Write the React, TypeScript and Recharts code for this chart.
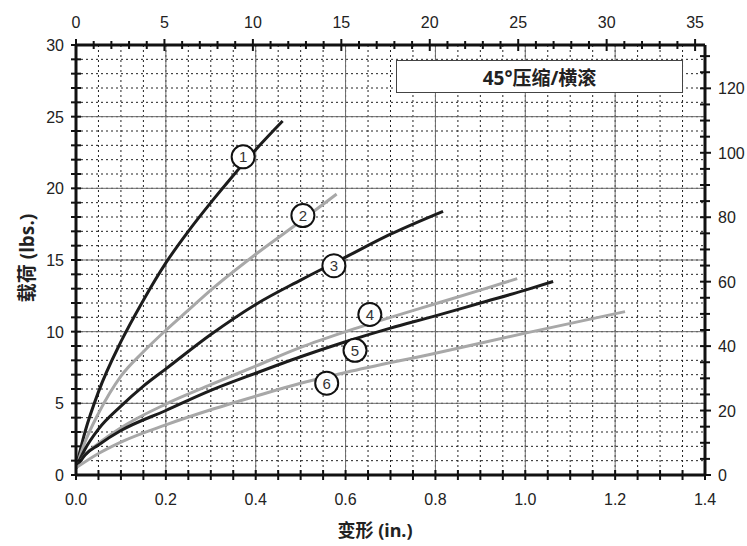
import React from 'react';
import { ComposedChart, Line, Scatter, XAxis, YAxis, CartesianGrid, ReferenceLine } from 'recharts';

// deflection (in.) vs load (lbs.)
const curve1 = [
  { x: 0, y: 0.5 }, { x: 0.02, y: 3.0 }, { x: 0.05, y: 5.8 }, { x: 0.1, y: 9.3 },
  { x: 0.15, y: 12.2 }, { x: 0.2, y: 14.8 }, { x: 0.25, y: 17.0 }, { x: 0.3, y: 19.0 },
  { x: 0.35, y: 20.9 }, { x: 0.4, y: 22.7 }, { x: 0.46, y: 24.7 },
];
const curve2 = [
  { x: 0, y: 0.5 }, { x: 0.02, y: 2.3 }, { x: 0.05, y: 4.3 }, { x: 0.1, y: 6.9 },
  { x: 0.15, y: 8.6 }, { x: 0.2, y: 10.1 }, { x: 0.25, y: 11.5 }, { x: 0.3, y: 12.9 },
  { x: 0.4, y: 15.4 }, { x: 0.5, y: 17.7 }, { x: 0.58, y: 19.6 },
];
const curve3 = [
  { x: 0, y: 0.5 }, { x: 0.02, y: 1.8 }, { x: 0.05, y: 3.2 }, { x: 0.1, y: 4.8 },
  { x: 0.15, y: 6.2 }, { x: 0.2, y: 7.4 }, { x: 0.3, y: 9.8 }, { x: 0.4, y: 11.9 },
  { x: 0.5, y: 13.6 }, { x: 0.6, y: 15.2 }, { x: 0.7, y: 16.8 }, { x: 0.817, y: 18.4 },
];
const curve4 = [
  { x: 0, y: 0.5 }, { x: 0.02, y: 1.4 }, { x: 0.05, y: 2.2 }, { x: 0.1, y: 3.3 },
  { x: 0.2, y: 4.95 }, { x: 0.3, y: 6.3 }, { x: 0.4, y: 7.6 }, { x: 0.5, y: 8.9 },
  { x: 0.6, y: 10.0 }, { x: 0.7, y: 11.0 }, { x: 0.8, y: 11.95 }, { x: 0.9, y: 12.9 },
  { x: 0.982, y: 13.7 },
];
const curve5 = [
  { x: 0, y: 0.5 }, { x: 0.02, y: 1.4 }, { x: 0.05, y: 2.1 }, { x: 0.1, y: 3.1 },
  { x: 0.2, y: 4.5 }, { x: 0.3, y: 5.9 }, { x: 0.4, y: 7.1 }, { x: 0.5, y: 8.25 },
  { x: 0.6, y: 9.3 }, { x: 0.7, y: 10.25 }, { x: 0.8, y: 11.1 }, { x: 0.9, y: 12.0 },
  { x: 1.0, y: 12.9 }, { x: 1.062, y: 13.5 },
];
const curve6 = [
  { x: 0, y: 0.5 }, { x: 0.05, y: 1.5 }, { x: 0.1, y: 2.3 }, { x: 0.2, y: 3.5 },
  { x: 0.3, y: 4.55 }, { x: 0.4, y: 5.5 }, { x: 0.5, y: 6.4 }, { x: 0.6, y: 7.15 },
  { x: 0.8, y: 8.5 }, { x: 1.0, y: 9.9 }, { x: 1.222, y: 11.4 },
];

// numbered circles sitting on the curves
const badges = [
  { id: '1', x: 0.372, y: 22.2 },
  { id: '2', x: 0.505, y: 18.1 },
  { id: '3', x: 0.574, y: 14.6 },
  { id: '4', x: 0.654, y: 11.2 },
  { id: '5', x: 0.621, y: 8.7 },
  { id: '6', x: 0.558, y: 6.4 },
];

const inchLabels = [0, 0.2, 0.4, 0.6, 0.8, 1.0, 1.2, 1.4];
const lbsLabels = [0, 5, 10, 15, 20, 25, 30];
const mmLabels = [0, 5, 10, 15, 20, 25, 30, 35];
const newtonLabels = [0, 20, 40, 60, 80, 100, 120];

const range = (end: number, step: number) => {
  const out: number[] = [];
  for (let i = 0; i * step <= end + 1e-9; i++) out.push(Math.round(i * step * 1000) / 1000);
  return out;
};
const inchTicks = range(1.4, 0.05);
const lbsTicks = range(30, 1);
const mmTicks = range(35, 1);
const newtonTicks = range(130, 5);

const has = (list: number[], v: number) => list.some((l) => Math.abs(l - v) < 1e-6);

const BLACK = '#1c1c1c';
const GRAY = '#a8a8a8';
const TICK_FONT = '"Liberation Sans", Arial, sans-serif';
const textStyle = { fontFamily: TICK_FONT, fontSize: 16, fill: '#222' };

const BottomTick = ({ x, y, payload }: any) => {
  const v = payload.value;
  return (
    <g>
      <line x1={x} x2={x} y1={y - 5} y2={y + 5} stroke="#111" strokeWidth={2} />
      {has(inchLabels, v) && (
        <text x={x} y={y + 30} textAnchor="middle" style={textStyle}>{v.toFixed(1)}</text>
      )}
    </g>
  );
};

const TopTick = ({ x, y, payload }: any) => {
  const v = payload.value;
  const major = has(mmLabels, v);
  return (
    <g>
      <line x1={x} x2={x} y1={y - (major ? 6 : 4)} y2={y + (major ? 6 : 4)} stroke="#111" strokeWidth={2} />
      {major && (
        <text x={x} y={y - 17} textAnchor="middle" style={textStyle}>{v}</text>
      )}
    </g>
  );
};

const LeftTick = ({ x, y, payload }: any) => {
  const v = payload.value;
  return (
    <g>
      <line x1={x - 5} x2={x + 5} y1={y} y2={y} stroke="#111" strokeWidth={2} />
      {has(lbsLabels, v) && (
        <text x={x - 12} y={y + 6} textAnchor="end" style={textStyle}>{v}</text>
      )}
    </g>
  );
};

const RightTick = ({ x, y, payload }: any) => {
  const v = payload.value;
  const major = has(newtonLabels, v);
  return (
    <g>
      <line x1={x - 5} x2={x + (major ? 6 : 5)} y1={y} y2={y} stroke="#111" strokeWidth={2} />
      {major && (
        <text x={x + 13} y={y + 6} textAnchor="start" style={textStyle}>{v}</text>
      )}
    </g>
  );
};

const Badge = ({ cx, cy, payload }: any) => (
  <g>
    <circle cx={cx} cy={cy} r={11.5} fill="#fff" stroke="#111" strokeWidth={2} />
    <text x={cx} y={cy + 5.5} textAnchor="middle" style={{ ...textStyle, fontSize: 15, fill: '#333' }}>{payload.id}</text>
  </g>
);

const axisLine = { stroke: '#111', strokeWidth: 3 };
const titleFont = '"Noto Sans", "Noto Sans CJK SC", sans-serif';

export default function App() {
  const curves = [
    { data: curve1, color: BLACK },
    { data: curve2, color: GRAY },
    { data: curve3, color: BLACK },
    { data: curve4, color: GRAY },
    { data: curve5, color: BLACK },
    { data: curve6, color: GRAY },
  ];
  return (
    <div style={{ position: 'absolute', left: 0, top: 0, width: 747, height: 546, background: '#fff' }}>
      <ComposedChart width={747} height={546} data={badges} margin={{ top: 15, right: 0, left: 16, bottom: 21 }}>
        <CartesianGrid xAxisId="in" yAxisId="lbs" stroke="#222" strokeDasharray="2 3" />
        {inchLabels.map((v) => (
          <ReferenceLine key={'vx' + v} xAxisId="in" yAxisId="lbs" x={v} stroke="#6b6b6b" strokeWidth={1} />
        ))}
        {lbsLabels.map((v) => (
          <ReferenceLine key={'hy' + v} xAxisId="in" yAxisId="lbs" y={v} stroke="#6b6b6b" strokeWidth={1} />
        ))}
        <XAxis xAxisId="in" dataKey="x" type="number" domain={[0, 1.4]} allowDataOverflow ticks={inchTicks}
          interval={0} height={50} tickSize={0} tickMargin={0} tickLine={false} axisLine={axisLine}
          tick={(p: any) => <BottomTick {...p} />} />
        <XAxis xAxisId="mm" dataKey="x" orientation="top" type="number" domain={[0, 35.56]} allowDataOverflow ticks={mmTicks}
          interval={0} height={30} tickSize={0} tickMargin={0} tickLine={false} axisLine={axisLine}
          tick={(p: any) => <TopTick {...p} />} />
        <YAxis yAxisId="lbs" dataKey="y" type="number" domain={[0, 30]} allowDataOverflow ticks={lbsTicks}
          interval={0} width={60} tickSize={0} tickMargin={0} tickLine={false} axisLine={axisLine}
          tick={(p: any) => <LeftTick {...p} />} />
        <YAxis yAxisId="n" orientation="right" type="number" domain={[0, 133.45]} allowDataOverflow ticks={newtonTicks}
          interval={0} width={42} tickSize={0} tickMargin={0} tickLine={false} axisLine={axisLine}
          tick={(p: any) => <RightTick {...p} />} />
        {curves.map((c, i) => (
          <Line key={i} xAxisId="in" yAxisId="lbs" data={c.data} dataKey="y" type="monotone" dot={false}
            stroke={c.color} strokeWidth={3} isAnimationActive={false} />
        ))}
        <Scatter xAxisId="in" yAxisId="lbs" data={badges} dataKey="y" shape={(p: any) => <Badge {...p} />}
          isAnimationActive={false} />
      </ComposedChart>
      <div style={{
        position: 'absolute', left: 396, top: 60, width: 287, height: 33, boxSizing: 'border-box',
        border: '1px solid #444', background: '#fff', display: 'flex', alignItems: 'center',
        justifyContent: 'center', fontFamily: titleFont, fontWeight: 700, fontSize: 19, color: '#222',
      }}>45°压缩/横滚</div>
      <div style={{
        position: 'absolute', left: 26, top: 258, transform: 'translate(-50%, -50%) rotate(-90deg)',
        whiteSpace: 'nowrap', fontFamily: titleFont, fontWeight: 700, fontSize: 19, color: '#222',
      }}>载荷 (lbs.)</div>
      <div style={{
        position: 'absolute', left: 375, top: 530, transform: 'translate(-50%, -50%)',
        whiteSpace: 'nowrap', fontFamily: titleFont, fontWeight: 700, fontSize: 18, lineHeight: '22px', color: '#222',
      }}>变形 (in.)</div>
    </div>
  );
}
